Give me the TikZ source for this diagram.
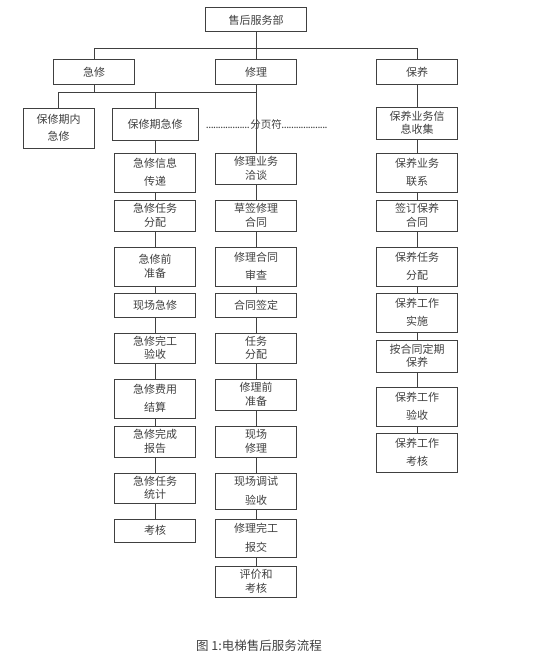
\documentclass[tikz,border=0pt]{standalone}
\usepackage{fontspec}
\setmainfont{Noto Sans CJK SC}
\usetikzlibrary{positioning, calc}
\definecolor{ink}{HTML}{404040}
\newcommand{\dotrun}[1]{\makebox[#1]{\leaders\hbox to 2.4pt{\hss.\hss}\hfill}}

\begin{document}
\begin{tikzpicture}[x=1pt, y=-1pt, line width=1pt, color=ink,
    box/.style={draw, align=center, inner sep=0pt, minimum width=81pt,
        font=\fontsize{11}{13.5}\selectfont}]
\useasboundingbox (0,0) rectangle (533,661);
\node[box, minimum width=101pt, minimum height=24pt] (top) at (256,20) {售后服务部};
\node[box, minimum height=24pt] (jixiu) at (94,72) {急修};
\node[box, minimum height=24pt] (xiuli) at (256,72) {修理};
\node[box, minimum height=24pt] (baoyang) at (417,72) {保养};
\node[box, minimum width=71pt, minimum height=40pt] (bxnj) at (58.5,128) {保修期内\\[3pt]急修};
\node[box, minimum width=86pt, minimum height=32pt] (bxjx) at (155,124) {保修期急修};
\node[inner sep=0pt, font=\fontsize{10.5}{12}\selectfont] (fenye) at (267,125)
    {\dotrun{44pt}分页符\dotrun{46pt}};
% 急修
\node[box, minimum height=39pt] (c1) at (155,172.5) {急修信息\\[5pt]传递};
\node[box, minimum height=31pt] (c2) at (155,215.5) {急修任务\\分配};
\node[box, minimum height=39pt] (c3) at (155,266.5) {急修前\\准备};
\node[box, minimum height=24pt] (c4) at (155,305) {现场急修};
\node[box, minimum height=30pt] (c5) at (155,348) {急修完工\\验收};
\node[box, minimum height=39pt] (c6) at (155,398.5) {急修费用\\[5pt]结算};
\node[box, minimum height=31pt] (c7) at (155,441.5) {急修完成\\报告};
\node[box, minimum height=30pt] (c8) at (155,488) {急修任务\\统计};
\node[box, minimum height=23pt] (c9) at (155,530.5) {考核};
% 修理
\node[box, minimum height=31pt] (d1) at (256,168.5) {修理业务\\洽谈};
\node[box, minimum height=31pt] (d2) at (256,215.5) {草签修理\\合同};
\node[box, minimum height=39pt] (d3) at (256,266.5) {修理合同\\[5pt]审查};
\node[box, minimum height=24pt] (d4) at (256,305) {合同签定};
\node[box, minimum height=30pt] (d5) at (256,348) {任务\\分配};
\node[box, minimum height=31pt] (d6) at (256,394.5) {修理前\\准备};
\node[box, minimum height=31pt] (d7) at (256,441.5) {现场\\修理};
\node[box, minimum height=36pt] (d8) at (256,491) {现场调试\\[5pt]验收};
\node[box, minimum height=38pt] (d9) at (256,538) {修理完工\\[5pt]报交};
\node[box, minimum height=31pt] (d10) at (256,581.5) {评价和\\考核};
% 保养
\node[box, minimum height=32pt] (e0) at (417,123) {保养业务信\\息收集};
\node[box, minimum height=39pt] (e1) at (417,172.5) {保养业务\\[5pt]联系};
\node[box, minimum height=31pt] (e2) at (417,215.5) {签订保养\\合同};
\node[box, minimum height=39pt] (e3) at (417,266.5) {保养任务\\[5pt]分配};
\node[box, minimum height=39pt] (e4) at (417,312.5) {保养工作\\[5pt]实施};
\node[box, minimum height=32pt] (e5) at (417,356) {按合同定期\\保养};
\node[box, minimum height=39pt] (e6) at (417,406.5) {保养工作\\[5pt]验收};
\node[box, minimum height=39pt] (e7) at (417,452.5) {保养工作\\[5pt]考核};
\node[font=\fontsize{12.5}{14}\selectfont] (cap) at (259,646) {图 1:电梯售后服务流程};

\draw (top.south) -- (top.south |- 0,48.5);
\draw (jixiu.north) -- (jixiu.north |- 0,48.5) -- (baoyang.north |- 0,48.5) -- (baoyang.north);
\draw (xiuli.north) -- (xiuli.north |- 0,48.5);
\draw (jixiu.south) -- (jixiu.south |- 0,92);
\draw (bxnj.north) -- (bxnj.north |- 0,92) -- (xiuli.south |- 0,92);
\draw (bxjx.north) -- (bxjx.north |- 0,92);
\draw (xiuli.south) -- (d1.north);
\draw (baoyang.south) -- (e0.north);
\draw (bxjx.south) -- (c1.north);
\draw (e0.south) -- (e1.north);
\foreach \i [evaluate=\i as \j using int(\i+1)] in {1,...,8}
    \draw (c\i.south) -- (c\j.north);
\foreach \i [evaluate=\i as \j using int(\i+1)] in {1,...,9}
    \draw (d\i.south) -- (d\j.north);
\foreach \i [evaluate=\i as \j using int(\i+1)] in {1,...,6}
    \draw (e\i.south) -- (e\j.north);
\end{tikzpicture}
\end{document}
